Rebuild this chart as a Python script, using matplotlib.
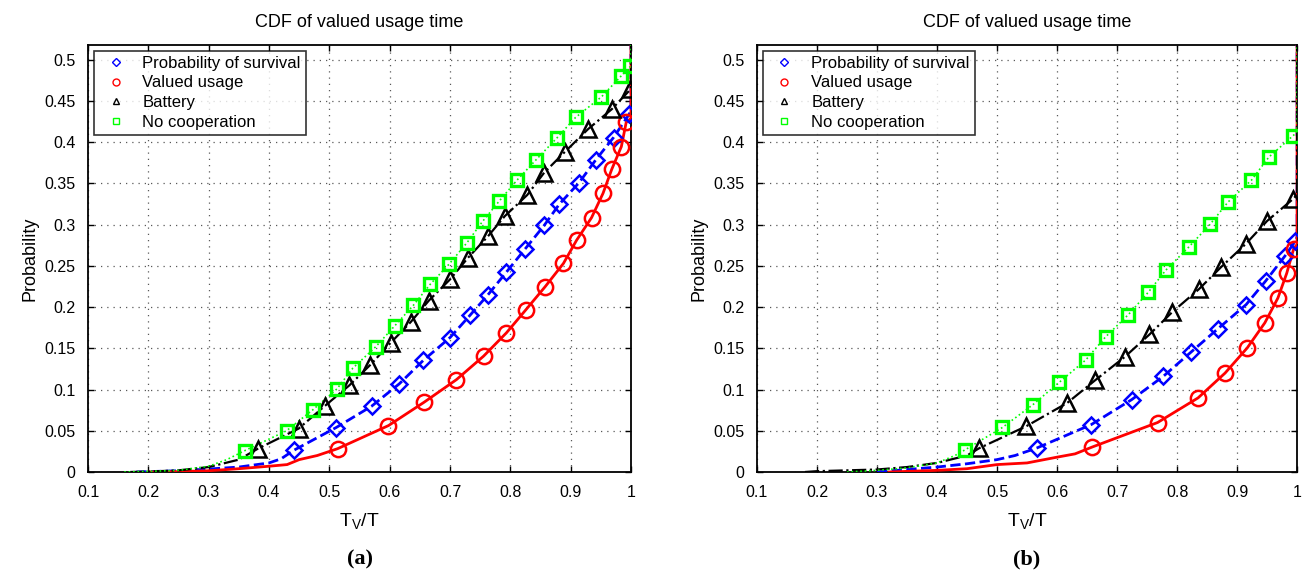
import matplotlib
matplotlib.use("Agg")
import matplotlib.pyplot as plt
from matplotlib.lines import Line2D

plt.rcParams['font.family'] = ['Liberation Sans', 'DejaVu Sans']
plt.rcParams['mathtext.fontset'] = 'custom'
plt.rcParams['mathtext.rm'] = 'Liberation Sans'

# ---------------- data: panel (a) ----------------
# marker points, plus low tail points of each curve
a_surv_tail_x = [0.18, 0.2, 0.25, 0.3, 0.35, 0.4, 0.42]
a_surv_tail_y = [0.0, 0.0005, 0.0015, 0.0036, 0.006, 0.011, 0.016]
a_surv_x = [0.441, 0.511, 0.570, 0.616, 0.656, 0.700, 0.733, 0.763, 0.7935, 0.825,
            0.856, 0.881, 0.914, 0.942, 0.971, 0.997]
a_surv_y = [0.0263, 0.0538, 0.0798, 0.107, 0.1356, 0.163, 0.190, 0.215, 0.2425, 0.271,
            0.299, 0.3247, 0.351, 0.379, 0.4057, 0.434]

a_val_tail_x = [0.2, 0.25, 0.3, 0.35, 0.4, 0.43, 0.45, 0.48]
a_val_tail_y = [0.0, 0.0005, 0.0015, 0.004, 0.007, 0.009, 0.015, 0.02]
a_val_x = [0.5137, 0.598, 0.657, 0.7106, 0.7556, 0.7935, 0.826, 0.8576, 0.888, 0.9097,
           0.9346, 0.9536, 0.968, 0.984, 0.992]
a_val_y = [0.0283, 0.0563, 0.0846, 0.112, 0.1405, 0.1688, 0.197, 0.2247, 0.253, 0.281,
           0.3085, 0.338, 0.367, 0.3947, 0.424]

a_bat_tail_x = [0.17, 0.2, 0.25, 0.3, 0.35]
a_bat_tail_y = [0.0, 0.0005, 0.002, 0.006, 0.015]
a_bat_x = [0.3816, 0.449, 0.492, 0.533, 0.568, 0.602, 0.635, 0.665, 0.700, 0.730,
           0.763, 0.791, 0.828, 0.856, 0.890, 0.929, 0.968, 0.999]
a_bat_y = [0.0283, 0.0526, 0.0798, 0.105, 0.130, 0.157, 0.182, 0.208, 0.2336, 0.260,
           0.286, 0.3105, 0.336, 0.363, 0.388, 0.416, 0.440, 0.464]

a_noc_tail_x = [0.16, 0.2, 0.25, 0.3, 0.33]
a_noc_tail_y = [0.0, 0.0008, 0.002, 0.007, 0.015]
a_noc_x = [0.360, 0.429, 0.473, 0.5126, 0.539, 0.577, 0.608, 0.639, 0.667, 0.699,
           0.728, 0.754, 0.782, 0.811, 0.843, 0.877, 0.908, 0.951, 0.984, 0.999]
a_noc_y = [0.026, 0.050, 0.0757, 0.1008, 0.126, 0.152, 0.177, 0.202, 0.2275, 0.2526,
           0.278, 0.304, 0.329, 0.354, 0.379, 0.405, 0.430, 0.455, 0.4806, 0.492]

# ---------------- data: panel (b) ----------------
b_surv_tail_x = [0.3, 0.4, 0.45, 0.5, 0.53]
b_surv_tail_y = [0.0, 0.006, 0.01, 0.015, 0.02]
b_surv_x = [0.566, 0.657, 0.7246, 0.777, 0.8226, 0.868, 0.915, 0.9475, 0.9798, 0.997]
b_surv_y = [0.029, 0.0575, 0.0879, 0.116, 0.145, 0.1737, 0.203, 0.2316, 0.262, 0.28]

b_val_tail_x = [0.32, 0.4, 0.45, 0.5, 0.55, 0.6, 0.63]
b_val_tail_y = [0.0, 0.002, 0.004, 0.009, 0.011, 0.018, 0.022]
b_val_x = [0.659, 0.7675, 0.835, 0.880, 0.917, 0.9463, 0.968, 0.9827, 0.9944]
b_val_y = [0.0304, 0.060, 0.0899, 0.120, 0.1506, 0.181, 0.211, 0.241, 0.271]

b_bat_tail_x = [0.18, 0.2, 0.3, 0.35, 0.4, 0.45]
b_bat_tail_y = [0.0, 0.001, 0.003, 0.006, 0.011, 0.02]
b_bat_x = [0.4707, 0.5487, 0.617, 0.663, 0.713, 0.754, 0.792, 0.836, 0.874, 0.915,
           0.950, 0.994]
b_bat_y = [0.029, 0.0555, 0.0838, 0.111, 0.1397, 0.1668, 0.194, 0.2215, 0.249, 0.277,
           0.3045, 0.3316]

b_noc_tail_x = [0.25, 0.3, 0.35, 0.4, 0.43]
b_noc_tail_y = [0.0, 0.002, 0.005, 0.011, 0.02]
b_noc_x = [0.447, 0.509, 0.560, 0.604, 0.648, 0.681, 0.719, 0.752, 0.7815, 0.8197,
           0.855, 0.885, 0.924, 0.953, 0.993]
b_noc_y = [0.027, 0.054, 0.0818, 0.109, 0.136, 0.164, 0.191, 0.218, 0.245, 0.273,
           0.3004, 0.3275, 0.354, 0.382, 0.4077]

labels = ['Probability of survival', 'Valued usage', 'Battery', 'No cooperation']
x_ticks = [0.1, 0.2, 0.3, 0.4, 0.5, 0.6, 0.7, 0.8, 0.9, 1.0]
x_tick_labels = ['0.1', '0.2', '0.3', '0.4', '0.5', '0.6', '0.7', '0.8', '0.9', '1']
y_ticks = [0, 0.05, 0.1, 0.15, 0.2, 0.25, 0.3, 0.35, 0.4, 0.45, 0.5]
y_tick_labels = ['0', '0.05', '0.1', '0.15', '0.2', '0.25', '0.3', '0.35', '0.4', '0.45', '0.5']

styles = [
    dict(color='blue', ls='--', lw=2.0, marker='D', ms=8, mew=1.8),
    dict(color='red', ls='-', lw=2.0, marker='o', ms=11, mew=1.8),
    dict(color='black', ls='-.', lw=1.6, marker='^', ms=11, mew=1.8),
    dict(color='#00ff00', ls=':', lw=1.2, marker='s', ms=9, mew=2.4),
]


def draw_curve(ax, tail_x, tail_y, mx, my, st):
    # curve = tail + marker points + jump to 1 at x = 1
    xs = tail_x + mx + [1.0, 1.0]
    ys = tail_y + my + [my[-1] + 0.005, 1.0]
    ax.plot(xs, ys, color=st['color'], ls=st['ls'], lw=st['lw'], zorder=3)
    ax.plot(mx, my, ls='none', marker=st['marker'], ms=st['ms'], mew=st['mew'],
            mfc='none', mec=st['color'], zorder=4)


def setup_panel(ax, curves, tag):
    for (tx, ty, mx, my), st in zip(curves, styles):
        draw_curve(ax, tx, ty, mx, my, st)
    ax.set_xlim(0.1, 1.0)
    ax.set_ylim(0, 0.518)
    ax.set_xticks(x_ticks)
    ax.set_xticklabels(x_tick_labels)
    ax.set_yticks(y_ticks)
    ax.set_yticklabels(y_tick_labels)
    ax.tick_params(direction='in', top=True, right=True, labelsize=11.5, length=4, width=1)
    ax.tick_params(axis='x', pad=9)
    ax.tick_params(axis='y', pad=9)
    ax.grid(True, ls=(0, (1, 4)), color='0.35', lw=0.9)
    for sp in ax.spines.values():
        sp.set_linewidth(1.3)
    ax.set_title('CDF of valued usage time', fontsize=13, pad=13)
    ax.set_ylabel('Probability', fontsize=13, labelpad=4)
    ax.set_xlabel(r'$\mathregular{T_V/T}$', fontsize=14, labelpad=8)
    handles = [Line2D([], [], ls='none', marker=st['marker'], ms=5 if st['marker'] != 'D' else 4,
                      mfc='none', mec=st['color'], mew=1.0) for st in styles]
    leg = ax.legend(handles, labels, loc='upper left', fontsize=12, frameon=True, fancybox=False,
                    borderaxespad=0.35, handlelength=2.0, handletextpad=0.6, labelspacing=0.28,
                    borderpad=0.3)
    leg.get_frame().set_edgecolor('black')
    leg.get_frame().set_linewidth(1.2)
    ax.text(0.5, -0.205, tag, transform=ax.transAxes, ha='center', va='center',
            fontsize=16, fontweight='bold', family='Liberation Serif')


fig = plt.figure(figsize=(13.04, 5.74), dpi=100)
ax1 = fig.add_axes([0.0675, 0.1777, 0.4164, 0.744])
ax2 = fig.add_axes([0.5805, 0.1777, 0.4142, 0.744])

setup_panel(ax1, [(a_surv_tail_x, a_surv_tail_y, a_surv_x, a_surv_y),
                  (a_val_tail_x, a_val_tail_y, a_val_x, a_val_y),
                  (a_bat_tail_x, a_bat_tail_y, a_bat_x, a_bat_y),
                  (a_noc_tail_x, a_noc_tail_y, a_noc_x, a_noc_y)], '(a)')
setup_panel(ax2, [(b_surv_tail_x, b_surv_tail_y, b_surv_x, b_surv_y),
                  (b_val_tail_x, b_val_tail_y, b_val_x, b_val_y),
                  (b_bat_tail_x, b_bat_tail_y, b_bat_x, b_bat_y),
                  (b_noc_tail_x, b_noc_tail_y, b_noc_x, b_noc_y)], '(b)')

fig.savefig('out.png', dpi=100)
